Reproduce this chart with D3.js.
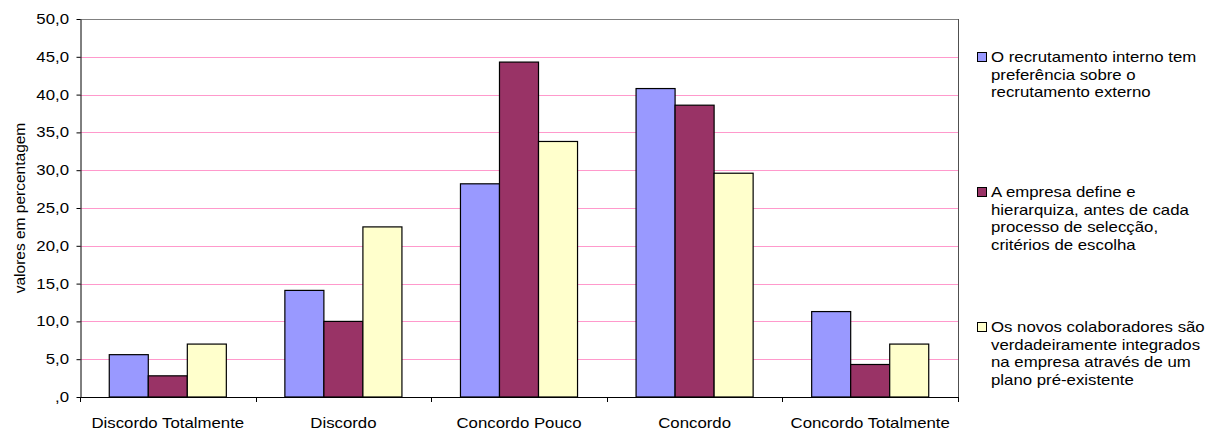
<!DOCTYPE html>
<html><head><meta charset="utf-8">
<script src="https://cdn.jsdelivr.net/npm/d3@7"></script>
<style>body{margin:0;background:#fff}svg{display:block;font-family:"Liberation Sans",Arial,sans-serif}</style>
</head><body>
<svg id="chart" width="1218" height="430"></svg>
<script>
const categories = ["Discordo Totalmente","Discordo","Concordo Pouco","Concordo","Concordo Totalmente"];
const seriesNames = [
  ["O recrutamento interno tem","preferência sobre o","recrutamento externo"],
  ["A empresa define e","hierarquiza, antes de cada","processo de selecção,","critérios de escolha"],
  ["Os novos colaboradores são","verdadeiramente integrados","na empresa através de um","plano pré-existente"]
];
const seriesColors = ["#9999FF","#993366","#FFFFCC"];
const serie1 = [5.6,14.1,28.2,40.8,11.3];
const serie2 = [2.8,10.0,44.3,38.6,4.3];
const serie3 = [7.0,22.5,33.8,29.6,7.0];
const series = [serie1,serie2,serie3];
const yTicks = [0,5,10,15,20,25,30,35,40,45,50];
const yTickLabels = [",0","5,0","10,0","15,0","20,0","25,0","30,0","35,0","40,0","45,0","50,0"];
const yLabel = "valores em percentagem";

const SX = 1.2;       // horizontal stretch of the text as seen in the reference
const FS = "14px";
const svg = d3.select("#chart");
const L=80, R=958, T=19, B=397;
const x = d3.scaleBand().domain(categories).range([L,R]).paddingInner(1/3).paddingOuter(1/6);
const xs = d3.scaleBand().domain(d3.range(series.length)).range([0,x.bandwidth()]);
const y = d3.scaleLinear().domain([0,50]).range([B,T]);

// gridlines
svg.append("g").selectAll("line").data(yTicks.filter(d=>d>0 && d<50)).join("line")
  .attr("x1",L).attr("x2",R).attr("y1",d=>Math.round(y(d))+0.5).attr("y2",d=>Math.round(y(d))+0.5)
  .attr("stroke","#FF99CC").attr("stroke-width",1);
// plot border top & right
svg.append("line").attr("x1",L).attr("x2",R+1).attr("y1",T+0.5).attr("y2",T+0.5).attr("stroke","#808080");
svg.append("line").attr("x1",R+0.5).attr("x2",R+0.5).attr("y1",T).attr("y2",B).attr("stroke","#505050");

// bars
const g = svg.append("g");
series.forEach((vals,si)=>{
  g.append("g").selectAll("rect").data(vals.map((v,i)=>({c:categories[i],v}))).join("rect")
    .attr("x",d=>x(d.c)+xs(si)).attr("width",xs.bandwidth())
    .attr("y",d=>y(d.v)).attr("height",d=>B-y(d.v))
    .attr("fill",seriesColors[si]).attr("stroke","#000").attr("stroke-width",1.2);
});

// y axis
const ya = svg.append("g").attr("transform",`translate(${L+0.5},0)`)
  .call(d3.axisLeft(y).tickValues(yTicks).tickFormat((d,i)=>yTickLabels[i]).tickSize(4).tickSizeOuter(0));
ya.select(".domain").attr("stroke","#000");
ya.selectAll(".tick line").attr("stroke","#000");
ya.selectAll("text").attr("font-size",FS).attr("fill","#000")
  .attr("font-family","Liberation Sans, Arial, sans-serif")
  .attr("x",0).attr("transform",`translate(-11.5,0) scale(${SX},1)`);

// x axis
const boundaries = d3.range(categories.length+1).map(i=>L + i*x.step());
const xa = svg.append("g");
xa.append("line").attr("x1",L).attr("x2",R+1).attr("y1",B+0.5).attr("y2",B+0.5).attr("stroke","#000");
xa.selectAll(".bt").data(boundaries).join("line").attr("class","bt")
  .attr("x1",d=>Math.round(d)+0.5).attr("x2",d=>Math.round(d)+0.5).attr("y1",B).attr("y2",B+5).attr("stroke","#000");
xa.selectAll("text").data(categories).join("text")
  .attr("transform",d=>`translate(${x(d)+x.bandwidth()/2},428) scale(${SX},1)`)
  .attr("text-anchor","middle").attr("font-size",FS).attr("fill","#000").text(d=>d);

// y label
svg.append("text").attr("transform",`translate(25,${(T+B)/2}) rotate(-90)`)
  .attr("text-anchor","middle").attr("font-size","15.5px").attr("fill","#000").text(yLabel);

// legend
const legBase = [62,197,332];
const lg = svg.append("g");
seriesNames.forEach((lines,i)=>{
  lg.append("rect").attr("x",977.5).attr("y",legBase[i]-9.5).attr("width",9).attr("height",9)
    .attr("fill",seriesColors[i]).attr("stroke","#000").attr("stroke-width",1);
  const t = lg.append("text").attr("transform",`translate(991,${legBase[i]}) scale(${SX},1)`)
    .attr("font-size",FS).attr("fill","#000");
  lines.forEach((ln,j)=>t.append("tspan").attr("x",0).attr("dy",j===0?0:17.6).text(ln));
});
</script>
</body></html>
